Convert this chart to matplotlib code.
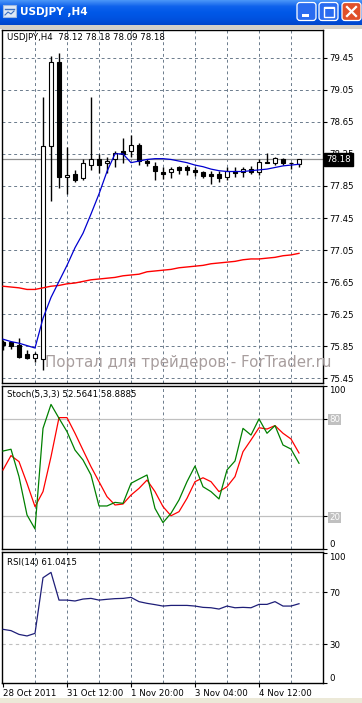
import numpy as np
import matplotlib
matplotlib.use('Agg')
import matplotlib.pyplot as plt
from matplotlib.patches import Rectangle, FancyBboxPatch
from matplotlib.colors import LinearSegmentedColormap

W, H = 362, 703

# USDJPY H4 bars, oldest -> newest
opens = [75.90, 75.90, 75.87, 75.75, 75.70, 75.69, 78.35, 79.39, 77.96, 78.00,
         77.95, 78.11, 78.18, 78.13, 78.18, 78.28, 78.29, 78.36, 78.16, 78.10,
         78.03, 78.03, 78.08, 78.08, 78.05, 78.03, 78.00, 78.00, 77.96, 78.04,
         78.03, 78.06, 78.03, 78.15, 78.14, 78.18, 78.14, 78.12]
highs = [75.93, 75.92, 75.95, 75.80, 75.78, 78.96, 79.47, 79.51, 78.34, 78.05,
         78.19, 78.96, 78.25, 78.21, 78.28, 78.45, 78.49, 78.39, 78.18, 78.15,
         78.08, 78.09, 78.10, 78.11, 78.08, 78.04, 78.04, 78.04, 78.09, 78.08,
         78.09, 78.10, 78.18, 78.26, 78.21, 78.20, 78.15, 78.18]
lows = [75.81, 75.82, 75.71, 75.69, 75.65, 75.56, 77.66, 77.83, 77.75, 77.90,
        77.93, 78.05, 78.01, 78.01, 78.08, 78.14, 78.21, 78.11, 78.10, 77.93,
        77.94, 77.95, 78.00, 77.99, 77.98, 77.95, 77.88, 77.90, 77.93, 77.96,
        77.96, 78.00, 77.99, 78.13, 78.11, 78.11, 78.06, 78.09]
closes = [75.87, 75.85, 75.72, 75.70, 75.75, 78.35, 79.39, 77.96, 77.99, 77.93,
          78.14, 78.19, 78.11, 78.16, 78.26, 78.25, 78.36, 78.16, 78.13, 78.04,
          78.00, 78.06, 78.05, 78.05, 78.03, 77.98, 77.98, 77.95, 78.04, 78.01,
          78.06, 78.03, 78.15, 78.14, 78.20, 78.13, 78.13, 78.18]

# moving averages
ma_fast = [75.94, 75.91, 75.89, 75.86, 75.83, 76.20, 76.46, 76.66, 76.86, 77.08,
           77.26, 77.50, 77.75, 78.03, 78.25, 78.25, 78.14, 78.16, 78.18, 78.19,
           78.19, 78.18, 78.16, 78.14, 78.11, 78.09, 78.06, 78.04, 78.03, 78.03,
           78.03, 78.04, 78.05, 78.06, 78.08, 78.10, 78.11, 78.12]
ma_slow = [76.60, 76.59, 76.58, 76.56, 76.56, 76.58, 76.60, 76.61, 76.63, 76.64,
           76.66, 76.68, 76.69, 76.70, 76.71, 76.73, 76.74, 76.75, 76.78, 76.79,
           76.80, 76.81, 76.83, 76.84, 76.85, 76.86, 76.88, 76.89, 76.90, 76.91,
           76.93, 76.94, 76.94, 76.95, 76.96, 76.98, 76.99, 77.01]

# Stochastic (5,3,3)
stoch_main = [60.1, 61.2, 44.4, 20.9, 12.3, 74.0, 88.7, 80.2, 72.0, 60.7,
              54.6, 45.4, 26.4, 26.4, 28.6, 28.0, 40.3, 42.9, 45.4, 24.9,
              16.2, 21.9, 30.1, 41.3, 50.9, 38.2, 35.2, 30.7, 48.5, 54.0,
              74.0, 69.9, 79.8, 71.0, 75.7, 63.8, 61.3, 52.6]
stoch_signal = [48.5, 57.3, 53.6, 40.3, 26.0, 35.2, 56.6, 80.6, 80.6, 71.0,
                60.7, 50.5, 41.3, 32.1, 27.0, 27.6, 33.1, 37.2, 42.3, 35.2,
                26.0, 20.4, 22.9, 31.1, 41.3, 43.7, 41.3, 35.2, 38.2, 44.4,
                59.7, 66.9, 74.4, 73.6, 75.7, 71.0, 67.5, 58.9]

# RSI(14)
rsi = [41.3, 40.3, 37.4, 36.2, 38.2, 81.0, 85.1, 63.8, 63.8, 63.1,
       64.6, 65.1, 63.8, 64.4, 64.9, 65.1, 65.9, 62.6, 61.3, 60.3,
       59.2, 59.7, 59.7, 59.7, 59.2, 58.2, 57.9, 56.9, 59.2, 57.9,
       58.2, 57.9, 60.5, 60.5, 62.6, 59.2, 59.2, 61.0]

price_ticks = [79.45, 79.05, 78.65, 78.25, 77.85, 77.45, 77.05, 76.65, 76.25, 75.85, 75.45]
grid_bars = [4, 8, 12, 16, 20, 24, 28, 32, 36]
time_pos = [0, 8, 16, 24, 32]
time_labels = ['28 Oct 2011', '31 Oct 12:00', '1 Nov 20:00', '3 Nov 04:00', '4 Nov 12:00']
last_price = 78.18

GRID = '#6b7b8c'
FS = 6.2


def box(x0, y0, x1, y1):
    return [x0 / W, 1 - y1 / H, (x1 - x0) / W, (y1 - y0) / H]


fig = plt.figure(figsize=(W / 100, H / 100), dpi=100)
fig.patch.set_facecolor('white')

# window chrome
bg = fig.add_axes([0, 0, 1, 1])
grad = np.linspace(0, 1, 40)[:, None]
cm = LinearSegmentedColormap.from_list('xp', ['#4a95f8', '#0f62ec', '#0058e8', '#0052e0', '#0046cc'])
bg.imshow(grad, cmap=cm, extent=(0, W, 25, 0), aspect='auto')
bg.add_patch(Rectangle((0, 25), W, 3.5, fc='#d4d0c8', ec='none'))
bg.add_patch(Rectangle((0, 698), W, 5, fc='#ece9d8', ec='none'))
bg.add_patch(Rectangle((3, 5), 13, 12, fc='#dfe9f7', ec='#9fb9e0', lw=0.8))
bg.plot([5, 14], [9, 9], color='#3a6fc0', lw=1)
bg.plot([5, 8, 11, 14], [15, 12, 14, 11], color='#3a6fc0', lw=0.8)
bg.text(20, 12, 'USDJPY ,H4', color='white', fontsize=7.6, fontweight='bold', va='center')
for x0, fc in [(297, '#2a6cf0'), (319, '#2a6cf0'), (342, '#e0502a')]:
    bg.add_patch(FancyBboxPatch((x0, 2.5), 19, 18, boxstyle='round,pad=0,rounding_size=3',
                                fc=fc, ec='white', lw=0.9))
bg.add_patch(Rectangle((302, 14), 7, 2.5, fc='white', ec='none'))
bg.add_patch(Rectangle((323.5, 6.5), 10, 10, fill=False, ec='white', lw=1))
bg.add_patch(Rectangle((323.5, 6.5), 10, 2, fc='white', ec='none'))
bg.plot([347, 356], [7, 16], color='white', lw=1.6)
bg.plot([347, 356], [16, 7], color='white', lw=1.6)
bg.set_xlim(0, W)
bg.set_ylim(H, 0)
bg.axis('off')

x = np.arange(len(opens))
XL = (-0.125, 40)


def panel(rect):
    ax = fig.add_axes(rect)
    ax.set_facecolor('white')
    ax.set_xlim(*XL)
    for s in ax.spines.values():
        s.set_linewidth(1.0)
        s.set_color('black')
    ax.yaxis.tick_right()
    ax.tick_params(axis='y', length=3, width=0.8, pad=1.5, labelsize=FS)
    ax.tick_params(axis='x', bottom=False, labelbottom=False)
    for b in grid_bars:
        ax.axvline(b, color=GRID, lw=0.7, ls=(0, (3, 3)), zorder=1)
    return ax


# ---- main price panel ----
ax = panel(box(2, 29.5, 323, 382.5))
ax.set_ylim(75.40, 79.80)
ax.set_yticks(price_ticks)
ax.set_yticklabels([f'{p:.2f}' for p in price_ticks])
for p in price_ticks:
    ax.axhline(p, color=GRID, lw=0.7, ls=(0, (3, 3)), zorder=1)
ax.axhline(last_price, color='#909090', lw=0.9, zorder=1.5)

for i in range(len(opens)):
    o, h, l, c = opens[i], highs[i], lows[i], closes[i]
    ax.vlines(i, l, h, color='black', lw=1.0, zorder=2)
    bottom = min(o, c)
    height = max(abs(c - o), 0.012)
    fc = 'white' if c >= o else 'black'
    ax.add_patch(Rectangle((i - 0.28, bottom), 0.56, height, fc=fc, ec='black', lw=0.8, zorder=3))

ax.plot(x, ma_slow, color='#ff0000', lw=1.0, zorder=4)
ax.plot(x, ma_fast, color='#0000d0', lw=0.9, zorder=4)

ax.annotate(f'{last_price:.2f}', xy=(1, last_price), xycoords=('axes fraction', 'data'),
            xytext=(2.5, 0), textcoords='offset points', ha='left', va='center',
            fontsize=FS, color='white',
            bbox=dict(boxstyle='square,pad=0.25', fc='black', ec='black'))
fig.text(7 / W, 1 - 38 / H, 'USDJPY,H4  78.12 78.18 78.09 78.18', fontsize=FS, va='center')

# ---- stochastic panel ----
ax2 = panel(box(2, 386, 323, 549))
ax2.set_ylim(0, 100)
ax2.axhline(80, color='#c0c0c0', lw=0.9, zorder=1)
ax2.axhline(20, color='#c0c0c0', lw=0.9, zorder=1)
ax2.set_yticks([0, 20, 80, 100])
ax2.set_yticklabels(['0', '20', '80', '100'])
labs = ax2.get_yticklabels()
labs[0].set_va('bottom')
labs[3].set_va('top')
for lab in (labs[1], labs[2]):
    lab.set_color('white')
    lab.set_bbox(dict(boxstyle='square,pad=0.1', fc='#c0c0c0', ec='none'))
ax2.plot(x, stoch_signal, color='#ff0000', lw=0.9, zorder=3)
ax2.plot(x, stoch_main, color='#008000', lw=0.9, zorder=3)
fig.text(7 / W, 1 - 394 / H, 'Stoch(5,3,3) 52.5641 58.8885', fontsize=FS, va='center')

# ---- RSI panel ----
ax3 = panel(box(2, 552, 323, 683))
ax3.set_ylim(0, 100.8)
ax3.axhline(70, color='#c0c0c0', lw=0.8, ls=(0, (3, 3)), zorder=1)
ax3.axhline(30, color='#c0c0c0', lw=0.8, ls=(0, (3, 3)), zorder=1)
ax3.set_yticks([0, 30, 70, 100])
ax3.set_yticklabels(['0', '30', '70', '100'])
labs = ax3.get_yticklabels()
labs[0].set_va('bottom')
labs[3].set_va('top')
ax3.plot(x, rsi, color='#1e1e78', lw=0.9, zorder=3)
fig.text(7 / W, 1 - 562 / H, 'RSI(14) 61.0415', fontsize=FS, va='center')

ax3.set_xticks(time_pos)
ax3.set_xticklabels(time_labels)
ax3.tick_params(axis='x', bottom=True, labelbottom=True, length=3, width=0.8, pad=1, labelsize=FS)
for lab in ax3.get_xticklabels():
    lab.set_ha('left')

# watermark
fig.text(45 / W, 1 - 363 / H, 'Портал для трейдеров - ForTrader.ru', fontsize=10.8,
         color='#a89e9e', va='center', ha='left')

fig.savefig('out.png', dpi=100)
